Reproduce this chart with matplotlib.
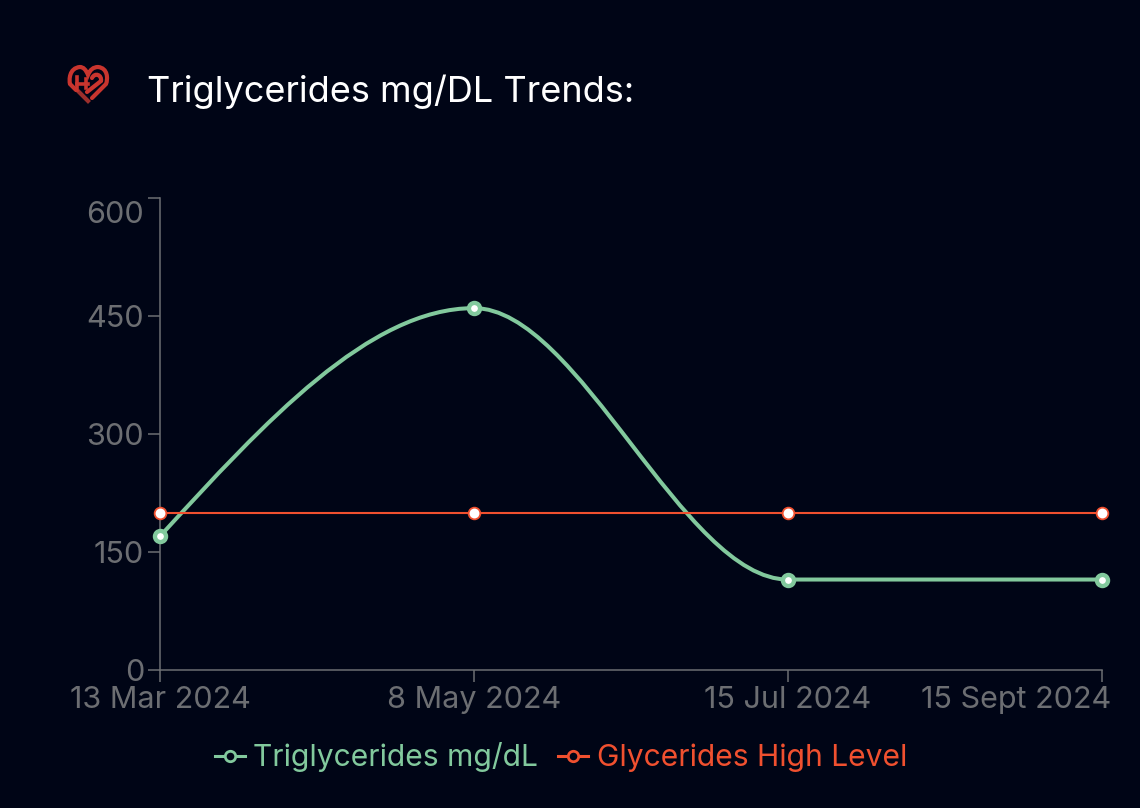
# Triglycerides trend card, dark theme, monotone curve like the web chart.

import numpy as np
import matplotlib
matplotlib.use('Agg')
import matplotlib.pyplot as plt
from matplotlib.lines import Line2D
from matplotlib.patches import PathPatch
from matplotlib.path import Path
from matplotlib.transforms import ScaledTranslation

plt.rcParams['font.family'] = ['Inter', 'DejaVu Sans']

dates = ['13 Mar 2024', '8 May 2024', '15 Jul 2024', '15 Sept 2024']
triglycerides = [170, 460, 115, 115]
high_level = [200, 200, 200, 200]
y_ticks = [0, 150, 300, 450, 600]

BG = '#000516'
GREY = '#6c6e72'
GREEN = '#82c99d'
RED = '#f0502f'
ICON = '#c9352e'
W, H = 1140, 808


def monotone_path(xs, ys):
    """Bezier path with the same tangents as d3 curveMonotoneX."""
    xs = np.asarray(xs, dtype=float)
    ys = np.asarray(ys, dtype=float)
    slopes = np.diff(ys) / np.diff(xs)
    tangents = np.zeros(len(xs))
    for i in range(1, len(xs) - 1):
        h0, h1 = xs[i] - xs[i - 1], xs[i + 1] - xs[i]
        s0, s1 = slopes[i - 1], slopes[i]
        p = (s0 * h1 + s1 * h0) / (h0 + h1)
        tangents[i] = (np.sign(s0) + np.sign(s1)) * min(abs(s0), abs(s1), 0.5 * abs(p))
    tangents[0] = (3 * slopes[0] - tangents[1]) / 2
    tangents[-1] = (3 * slopes[-1] - tangents[-2]) / 2
    verts = [(xs[0], ys[0])]
    codes = [Path.MOVETO]
    for i in range(len(xs) - 1):
        dx = (xs[i + 1] - xs[i]) / 3
        verts += [(xs[i] + dx, ys[i] + dx * tangents[i]),
                  (xs[i + 1] - dx, ys[i + 1] - dx * tangents[i + 1]),
                  (xs[i + 1], ys[i + 1])]
        codes += [Path.CURVE4] * 3
    return Path(verts, codes)


fig = plt.figure(figsize=(W / 100, H / 100), dpi=100, facecolor=BG)
ax = fig.add_axes([160 / W, (H - 670) / H, 942 / W, 472 / H], facecolor=BG)
xs = np.arange(len(dates))

ax.add_patch(PathPatch(monotone_path(xs, triglycerides), fill=False, edgecolor=GREEN, linewidth=2.9, zorder=3))
ax.plot(xs, triglycerides, linestyle='none', marker='o', markersize=8, markerfacecolor='white',
        markeredgecolor=GREEN, markeredgewidth=3.1, clip_on=False, zorder=4)
ax.plot(xs, high_level, color=RED, linewidth=1.5, marker='o', markersize=8.4, markerfacecolor='white',
        markeredgecolor=RED, markeredgewidth=1.3, clip_on=False, zorder=5)

ax.set_xlim(0, 3)
ax.set_ylim(0, 600)
for side in ['top', 'right']:
    ax.spines[side].set_visible(False)
for side in ['left', 'bottom']:
    ax.spines[side].set_color(GREY)
    ax.spines[side].set_linewidth(1.1)

ax.set_xticks(xs, dates)
ax.set_yticks(y_ticks)
ax.tick_params(axis='both', colors=GREY, labelcolor=GREY, labelsize=22, length=8.5, width=1.1)
ax.tick_params(axis='x', pad=3)
ax.tick_params(axis='y', pad=3)

# the web chart pulls the edge labels back inside the plot area
last = ax.get_xticklabels()[-1]
last.set_ha('right')
last.set_transform(last.get_transform() + ScaledTranslation(9 / 100, 0, fig.dpi_scale_trans))
top = ax.get_yticklabels()[-1]
top.set_transform(top.get_transform() + ScaledTranslation(0, -14 / 100, fig.dpi_scale_trans))

fig.text(147 / W, 1 - 92 / H, 'Triglycerides mg/DL Trends:', color='white', fontsize=26, va='center', ha='left')

handles = [Line2D([], [], color=GREEN, linewidth=2.2, marker='o', markersize=7.5, markerfacecolor=BG,
                  markeredgecolor=GREEN, markeredgewidth=2),
           Line2D([], [], color=RED, linewidth=2.2, marker='o', markersize=7.5, markerfacecolor=BG,
                  markeredgecolor=RED, markeredgewidth=2)]
fig.legend(handles, ['Triglycerides mg/dL', 'Glycerides High Level'], loc='center left',
           bbox_to_anchor=(214.5 / W, 1 - 757 / H), ncol=2, frameon=False, fontsize=21.6, handlelength=1.0,
           handletextpad=0.27, columnspacing=0.7, labelcolor=[GREEN, RED], borderpad=0, borderaxespad=0)

# heart icon, drawn in pixel coordinates of the figure
icon = fig.add_axes([0, 0, 1, 1], facecolor='none')
icon.set_xlim(0, W)
icon.set_ylim(H, 0)
icon.axis('off')
heart = Path([(76, 90), (70, 84), (69, 80), (69, 68), (80, 67), (85, 67), (88, 75), (91, 67), (98, 67),
              (108, 68), (108, 79), (106, 84), (92, 98)],
             [Path.MOVETO, Path.LINETO, Path.CURVE4, Path.CURVE4, Path.CURVE4, Path.CURVE3, Path.CURVE3,
              Path.CURVE3, Path.CURVE3, Path.CURVE4, Path.CURVE4, Path.CURVE4, Path.LINETO])
two = Path([(92, 78), (95, 72), (102, 75), (101, 81), (87, 92)],
           [Path.MOVETO, Path.CURVE4, Path.CURVE4, Path.CURVE4, Path.LINETO])
for p in [heart, two]:
    icon.add_patch(PathPatch(p, fill=False, edgecolor=ICON, linewidth=3, capstyle='round'))
icon.plot([79, 88], [92, 101], color='#9c2f2c', linewidth=3)
icon.plot([77, 77], [77, 90], color=ICON, linewidth=2.6)
icon.plot([86, 86], [79, 88], color=ICON, linewidth=2.6)
icon.plot([77, 88], [84, 84], color=ICON, linewidth=2.6)

fig.savefig('out.png', dpi=100, facecolor=BG)
